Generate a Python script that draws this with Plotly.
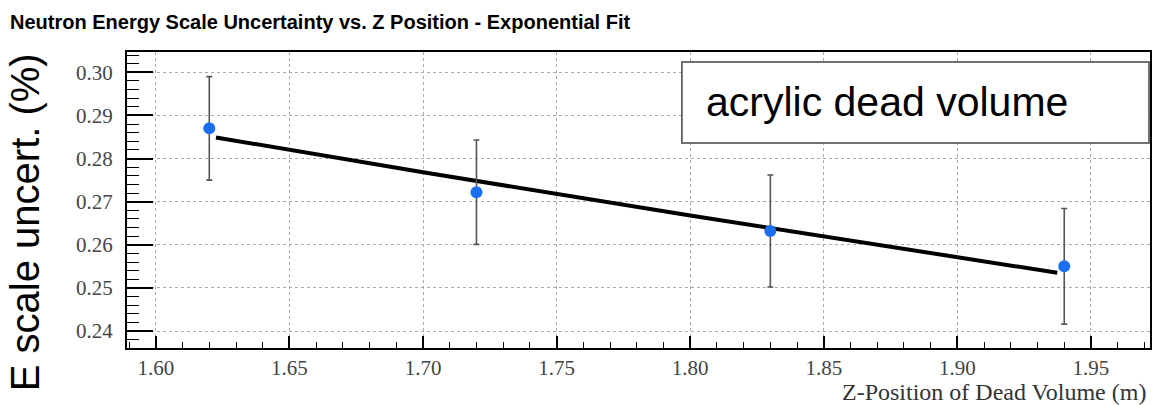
import plotly.graph_objects as go

# Data
z_pos = [1.62, 1.72, 1.83, 1.94]
e_uncert = [0.2870, 0.2722, 0.2632, 0.2550]
e_err = [0.0120, 0.0121, 0.0130, 0.0134]

fit_z = [1.6225, 1.70, 1.80, 1.9374]
fit_u = [0.2849, 0.2768, 0.2668, 0.2535]

x_ticks = [1.60, 1.65, 1.70, 1.75, 1.80, 1.85, 1.90, 1.95]
y_ticks = [0.24, 0.25, 0.26, 0.27, 0.28, 0.29, 0.30]

W, H = 1155, 405
L, R, T, B = 127, 1152, 52, 348
pw, ph = R - L, B - T

def px(x):
    return (x - L) / pw

def py(y):
    return (B - y) / ph

fig = go.Figure()

fig.add_trace(go.Scatter(
    x=fit_z, y=fit_u, mode="lines",
    line=dict(color="black", width=4),
    showlegend=False, hoverinfo="skip",
))

fig.add_trace(go.Scatter(
    x=z_pos, y=e_uncert, mode="markers",
    marker=dict(color="#1a6ff0", size=12),
    error_y=dict(type="data", array=e_err, visible=True,
                 color="#555555", thickness=1.6, width=3),
    showlegend=False,
))

serif = "Liberation Serif, Times New Roman, serif"
sans = "Liberation Sans, Arial, Helvetica, sans-serif"

fig.update_layout(
    width=W, height=H,
    margin=dict(l=L, r=W - R, t=T, b=H - B, pad=0),
    paper_bgcolor="white", plot_bgcolor="white",
    xaxis=dict(
        range=[1.5892, 1.9721],
        tickvals=x_ticks, ticktext=[f"{v:.2f}" for v in x_ticks],
        ticks="inside", ticklen=12, tickwidth=1.5, tickcolor="black",
        minor=dict(dtick=0.01, tick0=1.60, ticks="inside", ticklen=6,
                   tickwidth=1.2, tickcolor="black", showgrid=False),
        showgrid=True, gridcolor="#aaaaaa", griddash="dot", gridwidth=1,
        showline=True, linecolor="black", linewidth=2, mirror=True,
        zeroline=False,
        tickfont=dict(family=serif, size=21, color="#444444"),
    ),
    yaxis=dict(
        range=[0.23606, 0.30471],
        tickvals=y_ticks, ticktext=[f"{v:.2f}" for v in y_ticks],
        ticks="inside", ticklen=26, tickwidth=1.5, tickcolor="black",
        minor=dict(dtick=0.002, tick0=0.24, ticks="inside", ticklen=12,
                   tickwidth=1.2, tickcolor="black", showgrid=False),
        showgrid=True, gridcolor="#aaaaaa", griddash="dot", gridwidth=1,
        showline=True, linecolor="black", linewidth=2, mirror=True,
        zeroline=False, ticklabelstandoff=8,
        tickfont=dict(family=serif, size=21, color="#444444"),
    ),
    shapes=[
        dict(type="rect", xref="paper", yref="paper",
             x0=px(683), x1=px(1151), y0=py(143), y1=py(62),
             fillcolor="white", line=dict(color="#444444", width=1.5),
             layer="above"),
    ],
    annotations=[
        dict(text="<b>Neutron Energy Scale Uncertainty vs. Z Position - Exponential Fit</b>",
             xref="paper", yref="paper", x=px(8), y=py(22),
             xanchor="left", yanchor="middle", showarrow=False,
             font=dict(family=sans, size=20, color="black")),
        dict(text="E scale uncert. (%)",
             xref="paper", yref="paper", x=px(25), y=py(222),
             xanchor="center", yanchor="middle", textangle=-90,
             showarrow=False,
             font=dict(family=sans, size=40, color="black")),
        dict(text="Z-Position of Dead Volume (m)",
             xref="paper", yref="paper", x=px(1150), y=py(392),
             xanchor="right", yanchor="middle", showarrow=False,
             font=dict(family=serif, size=24, color="#333333")),
        dict(text="acrylic dead volume",
             xref="paper", yref="paper", x=px(705), y=py(102),
             xanchor="left", yanchor="middle", showarrow=False,
             font=dict(family=sans, size=41, color="black")),
    ],
)

fig.write_html("out.html")
